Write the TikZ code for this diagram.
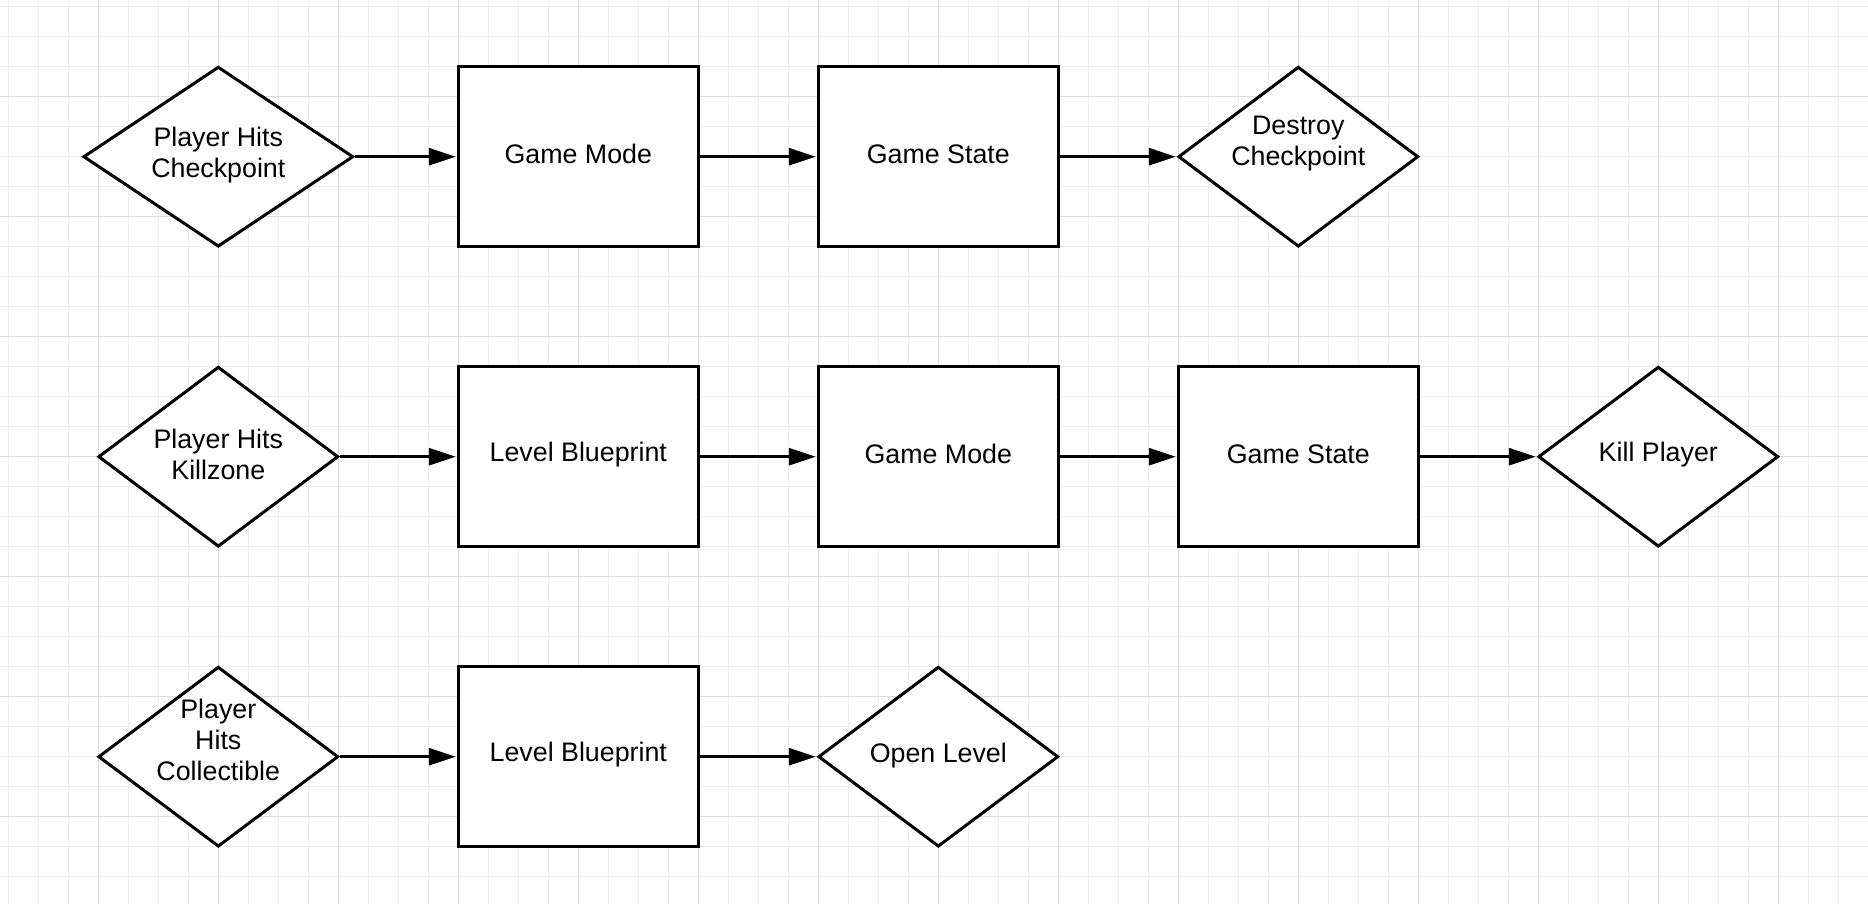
\documentclass[tikz,border=0pt]{standalone}
\usepackage{fontspec}
\setmainfont{Liberation Sans}
\usetikzlibrary{shapes.geometric,arrows.meta}
\definecolor{gridminor}{HTML}{EDEDED}
\definecolor{gridmajor}{HTML}{DCDCDC}
\tikzset{
  minorline/.style={draw=gridminor,line width=0.5pt},
  majorline/.style={draw=gridmajor,line width=0.6pt},
  boxnode/.style={draw=black,fill=white,line width=1.5pt,rectangle,minimum width=120pt,minimum height=90pt,inner sep=0pt},
  dianode/.style={draw=black,fill=white,line width=1.5pt,diamond,minimum width=120pt,minimum height=90pt,inner sep=0pt},
  txtnode/.style={font=\fontsize{13.4}{15.5}\selectfont,align=center,inner sep=0pt},
  flow/.style={draw=black,line width=1.5pt,-{Triangle[length=13.5pt,width=8.5pt]},shorten >=0.5pt}
}
\begin{document}
\begin{tikzpicture}[x=0.5pt,y=-0.5pt]
\useasboundingbox (0,0) rectangle (1868,904);
\fill[white] (0,0) rectangle (1868,904);
% grid
\foreach \i in {0,...,61} {\draw[minorline] ({8.3+30*\i},0) -- ({8.3+30*\i},904);}
\foreach \j in {0,...,29} {\draw[minorline] (0,{6.7+30*\j}) -- (1868,{6.7+30*\j});}
\foreach \i in {0,...,15} {\draw[majorline] ({98.3+120*\i},0) -- ({98.3+120*\i},904);}
\foreach \j in {0,...,6} {\draw[majorline] (0,{96.7+120*\j}) -- (1868,{96.7+120*\j});}

% row 1
\node[dianode,minimum width=135pt] (a1) at (218.3,156.7) {};
\node[txtnode] (ta1) at ([yshift=1pt]a1.center) {Player Hits\\Checkpoint};
\node[boxnode] (a2) at (578.3,156.7) {};
\node[txtnode] (ta2) at ([yshift=1.2pt]a2.center) {Game Mode};
\node[boxnode] (a3) at (938.3,156.7) {};
\node[txtnode] (ta3) at ([yshift=1.2pt]a3.center) {Game State};
\node[dianode] (a4) at (1298.3,156.7) {};
\node[txtnode] (ta4) at ([yshift=6.5pt]a4.center) {Destroy\\Checkpoint};

% row 2
\node[dianode] (b1) at (218.3,456.7) {};
\node[txtnode] (tb1) at ([yshift=1pt]b1.center) {Player Hits\\Killzone};
\node[boxnode] (b2) at (578.3,456.7) {};
\node[txtnode] (tb2) at ([yshift=1.2pt]b2.center) {Level Blueprint};
\node[boxnode] (b3) at (938.3,456.7) {};
\node[txtnode] (tb3) at ([yshift=1.2pt]b3.center) {Game Mode};
\node[boxnode] (b4) at (1298.3,456.7) {};
\node[txtnode] (tb4) at ([yshift=1.2pt]b4.center) {Game State};
\node[dianode] (b5) at (1658.3,456.7) {};
\node[txtnode] (tb5) at ([yshift=1.2pt]b5.center) {Kill Player};

% row 3
\node[dianode] (c1) at (218.3,756.7) {};
\node[txtnode] (tc1) at ([yshift=8.5pt]c1.center) {Player\\Hits\\Collectible};
\node[boxnode] (c2) at (578.3,756.7) {};
\node[txtnode] (tc2) at ([yshift=1.2pt]c2.center) {Level Blueprint};
\node[dianode] (c3) at (938.3,756.7) {};
\node[txtnode] (tc3) at ([yshift=0.8pt]c3.center) {Open Level};

% connectors
\draw[flow] (a1.east) -- (a2.west);
\draw[flow] (a2.east) -- (a3.west);
\draw[flow] (a3.east) -- (a4.west);
\draw[flow] (b1.east) -- (b2.west);
\draw[flow] (b2.east) -- (b3.west);
\draw[flow] (b3.east) -- (b4.west);
\draw[flow] (b4.east) -- (b5.west);
\draw[flow] (c1.east) -- (c2.west);
\draw[flow] (c2.east) -- (c3.west);
\end{tikzpicture}
\end{document}
